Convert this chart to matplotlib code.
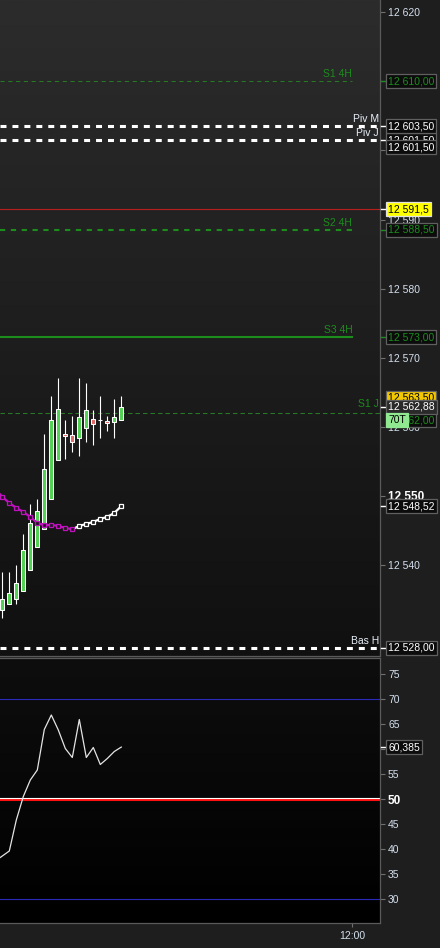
import numpy as np
import matplotlib
matplotlib.use("Agg")
import matplotlib.pyplot as plt
from matplotlib.colors import to_rgb
from matplotlib.transforms import blended_transform_factory

plt.rcParams['font.family'] = ['Liberation Sans', 'DejaVu Sans']
plt.rcParams['lines.scale_dashes'] = False

# --- Velas (una por barra, índice 0..17) ---
aperturas = [12533.55, 12534.42, 12535.15, 12536.30, 12539.35, 12542.67, 12545.28, 12549.62, 12555.21,
             12559.02, 12558.88, 12558.40, 12559.84, 12561.20, 12560.95, 12560.90, 12560.76, 12561.05]
cierres = [12535.15, 12536.01, 12537.46, 12542.24, 12546.15, 12547.88, 12553.96, 12561.05, 12562.64,
           12558.74, 12557.82, 12561.48, 12562.50, 12560.40, 12560.95, 12560.50, 12561.48, 12562.88]
maximos = [12539.00, 12539.00, 12539.97, 12544.46, 12548.90, 12549.52, 12558.93, 12564.43, 12567.03,
           12560.95, 12561.53, 12567.03, 12566.40, 12562.40, 12564.43, 12561.50, 12564.00, 12564.43]
minimos = [12532.35, 12534.42, 12534.42, 12536.30, 12539.35, 12542.67, 12545.28, 12549.62, 12555.21,
           12555.36, 12556.37, 12555.79, 12557.82, 12557.40, 12558.40, 12559.40, 12558.40, 12561.05]

# Media móvil y RSI (empiezan una barra antes, índice -1)
media = [12551.00, 12549.86, 12548.99, 12548.27, 12547.69, 12546.97, 12546.10, 12545.76, 12545.81, 12545.66,
         12545.37, 12545.18, 12545.66, 12545.95, 12546.24, 12546.68, 12546.97, 12547.54, 12548.52]
rsi = [37.6, 38.6, 39.6, 45.8, 50.5, 53.8, 55.8, 63.9, 66.8, 63.8,
       60.1, 58.3, 65.9, 58.3, 60.3, 56.9, 58.1, 59.5, 60.385]
ultima_barra_morada = 10  # la media pasa a blanco cuando sube

# Niveles horizontales
niveles_4h_nombres = ["S1 4H", "S2 4H", "S3 4H"]
niveles_4h = [12610.00, 12588.50, 12573.00]
niveles_blancos_nombres = ["Piv M", "Piv J", "Bas H"]
niveles_blancos = [12603.50, 12601.50, 12528.00]
nivel_s1j_nombre = "S1 J"
nivel_s1j = 12562.00
linea_roja = 12591.5
precio_ultimo = 12562.88
precio_ask = 12563.50
rsi_niveles = [30, 50, 70]

barra_fin_4h = 50  # las líneas 4H terminan en las 12:00
hora_barra = [50]
hora_texto = ["12:00"]
ticks_precio = [12540, 12550, 12560, 12570, 12580, 12590, 12600, 12610, 12620]
ticks_rsi = [30, 35, 40, 45, 50, 55, 60, 65, 70, 75]

W, H = 440, 948
verde = '#52d252'
rojo = '#e26a6a'
verde_nivel = '#1c8c1c'
verde_tenue = '#267a26'
blanco_txt = '#e8eef8'
gris_borde = '#5a5a5a'
color_ticks = '#d4e0ee'


def fmt(v, dec=2):
    s = f"{v:,.{dec}f}".replace(",", " ").replace(".", ",")
    return s


def fondo(ax, arriba, abajo):
    t = np.linspace(0, 1, 256)[:, None, None]
    img = np.array(to_rgb(arriba)) * (1 - t) + np.array(to_rgb(abajo)) * t
    ax.imshow(img, extent=(0, 1, 0, 1), transform=ax.transAxes, aspect='auto',
              zorder=0, interpolation='bilinear')


fig = plt.figure(figsize=(W / 100, H / 100), dpi=100, facecolor='#1e1e1e')
ax = fig.add_axes([0, 1 - 655.7 / H, 380 / W, 655.7 / H])
ax2 = fig.add_axes([0, 1 - 922.7 / H, 380 / W, (922.7 - 658.3) / H])

fondo(ax, '#2c2c2c', '#101010')
fondo(ax2, '#0e0e0e', '#000000')

# --- Velas ---
x = np.arange(len(aperturas))
o = np.array(aperturas)
c = np.array(cierres)
colores = [verde if ci > oi else (rojo if ci < oi else 'white') for oi, ci in zip(o, c)]
ax.vlines(x, minimos, maximos, color='white', lw=0.8, zorder=3)
ax.bar(x, np.abs(c - o), bottom=np.minimum(o, c), width=0.58, color=colores,
       edgecolor='white', linewidth=0.75, zorder=4)

# --- Media móvil ---
xm = np.arange(-1, len(media) - 1)
k = ultima_barra_morada + 1
morado = '#c010c0'
ax.plot(xm[:k + 1], media[:k + 1], color=morado, lw=1.6, zorder=5)
ax.plot(xm[k:], media[k:], color='white', lw=1.6, zorder=5)
ax.plot(xm[1:k + 1], media[1:k + 1], ls='none', marker='s', ms=3.4, mfc='#1a1a1a', mec=morado, mew=0.9, zorder=6)
ax.plot(xm[k + 1:], media[k + 1:], ls='none', marker='s', ms=3.4, mfc='#1a1a1a', mec='white', mew=0.9, zorder=6)

x_izq, x_der = -0.33, 53.96
ax.set_xlim(x_izq, x_der)
ax.set_ylim(12526.88, 12621.78)

# --- Niveles ---
estilos_4h = [dict(lw=0.75, dashes=(3, 2.6), color=verde_tenue),
              dict(lw=1.5, dashes=(3.8, 4), color=verde_nivel),
              dict(lw=1.5, color=verde_nivel)]
for nombre, v, est in zip(niveles_4h_nombres, niveles_4h, estilos_4h):
    ax.plot([x_izq, barra_fin_4h], [v, v], zorder=2, **est)
    ax.annotate(nombre, xy=(barra_fin_4h, v), xytext=(0, 2), textcoords='offset pixels',
                ha='right', va='bottom', fontsize=7.5, color=verde_nivel, zorder=2)

for nombre, v in zip(niveles_blancos_nombres, niveles_blancos):
    ax.plot([x_izq, x_der], [v, v], color='white', lw=2.2, dashes=(4.3, 4.3), zorder=2,
            solid_capstyle='butt', dash_capstyle='butt')
    ax.annotate(nombre, xy=(53.8, v), xytext=(0, 2), textcoords='offset pixels',
                ha='right', va='bottom', fontsize=7.5, color=blanco_txt, zorder=2)

ax.plot([x_izq, x_der], [nivel_s1j, nivel_s1j], color=verde_tenue, lw=0.75, dashes=(3.2, 2.2), zorder=2)
ax.annotate(nivel_s1j_nombre, xy=(53.8, nivel_s1j), xytext=(0, 4), textcoords='offset pixels',
            ha='right', va='bottom', fontsize=7.5, color=verde_nivel, zorder=2)

ax.axhline(linea_roja, color='#b82020', lw=0.8, zorder=2)

# --- Ejes ---
for a in (ax, ax2):
    for lado in ('left', 'top', 'bottom', 'right'):
        a.spines[lado].set_color(gris_borde)
        a.spines[lado].set_linewidth(0.9)
    a.spines['left'].set_visible(False)
    a.yaxis.tick_right()
ax.spines['top'].set_visible(False)

ax.set_xticks([])
ax.set_yticks(ticks_precio)
ax.set_yticklabels([fmt(t, 0) for t in ticks_precio])
ax.tick_params(axis='y', colors='#707070', labelcolor=color_ticks, length=3.6, width=0.8,
               pad=2.2, labelsize=7.5)
for t, lab in zip(ticks_precio, ax.get_yticklabels()):
    if t == 12550:
        lab.set_fontweight('bold')
        lab.set_fontsize(8.5)
        lab.set_color('white')

# --- RSI ---
ax2.plot(xm, rsi, color='#e4e4e4', lw=0.9, zorder=3)
for v in rsi_niveles:
    if v == 50:
        ax2.axhline(49.8, color='#ff1010', lw=1.5, zorder=2)
        ax2.axhline(50.15, color='white', lw=0.8, zorder=2)
    else:
        ax2.axhline(v, color='#2a2ab8', lw=0.8, zorder=2)
ax2.set_xlim(x_izq, x_der)
ax2.set_ylim(25.26, 78.14)
ax2.set_yticks(ticks_rsi)
ax2.set_yticklabels([str(t) for t in ticks_rsi])
ax2.tick_params(axis='y', colors='#707070', labelcolor=color_ticks, length=3.6, width=0.8,
                pad=2.2, labelsize=7.5)
for t, lab in zip(ticks_rsi, ax2.get_yticklabels()):
    if t == 50:
        lab.set_fontweight('bold')
        lab.set_fontsize(8.5)
        lab.set_color('white')
ax2.set_xticks(hora_barra)
ax2.set_xticklabels(hora_texto)
ax2.tick_params(axis='x', colors='#707070', labelcolor=color_ticks, length=3, width=0.8,
                pad=3, labelsize=7.5)


# --- Cajas de valores en el eje derecho ---
def caja(a, v, texto, ctexto, cfondo, cborde='#606060', dy=0, z=6, x0=388, guion=True):
    tr = blended_transform_factory(fig.transFigure, a.transData)
    if guion:
        a.plot([381 / W, 385 / W], [v, v], transform=tr, color=ctexto if ctexto != 'black' else 'white',
               lw=1, clip_on=False, zorder=z)
    a.annotate(texto, xy=(x0 / W, v), xycoords=tr, xytext=(0, dy), textcoords='offset pixels',
               ha='left', va='center', fontsize=7.5, color=ctexto, zorder=z, annotation_clip=False,
               bbox=dict(boxstyle='square,pad=0.2', fc=cfondo, ec=cborde, lw=0.9))


caja(ax, niveles_4h[0], fmt(niveles_4h[0]), verde_nivel, '#0c0c0c', z=6)
caja(ax, niveles_blancos[1], fmt(niveles_blancos[1]), 'white', '#0c0c0c', z=6)
caja(ax, niveles_blancos[1], fmt(niveles_blancos[1]), 'white', '#0c0c0c', dy=-7, z=7, guion=False)
caja(ax, niveles_blancos[0], fmt(niveles_blancos[0]), 'white', '#0c0c0c', z=8)
caja(ax, linea_roja, fmt(linea_roja, 1), 'black', '#ffff00', cborde='#e0e0e0', z=6)
caja(ax, niveles_4h[1], fmt(niveles_4h[1]), verde_nivel, '#0c0c0c', z=7)
caja(ax, niveles_4h[2], fmt(niveles_4h[2]), verde_nivel, '#0c0c0c', z=6)
caja(ax, precio_ask, fmt(precio_ask), 'black', '#f2c800', dy=5, z=6, guion=False)
caja(ax, nivel_s1j, fmt(nivel_s1j), verde_nivel, '#0c0c0c', dy=-7, z=7, guion=False)
caja(ax, precio_ultimo, fmt(precio_ultimo), 'white', '#2a2a2a', z=8)
caja(ax, nivel_s1j, "70T", 'black', '#90e890', cborde='#90e890', dy=-7, z=9, guion=False)
caja(ax, media[-1], fmt(media[-1]), 'white', '#0c0c0c', z=6)
caja(ax, niveles_blancos[2], fmt(niveles_blancos[2]), 'white', '#0c0c0c', z=6)
caja(ax2, rsi[-1], fmt(rsi[-1], 3), 'white', '#0c0c0c', z=6)

fig.savefig("out.png", dpi=100, facecolor=fig.get_facecolor())
